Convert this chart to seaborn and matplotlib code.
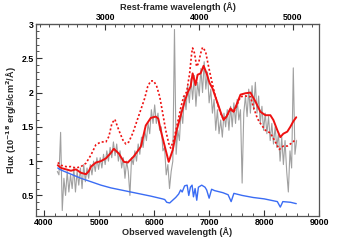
import numpy as np
import pandas as pd
import matplotlib
matplotlib.use("Agg")
import matplotlib.pyplot as plt
from matplotlib.ticker import MultipleLocator, FixedLocator, FormatStrFormatter
import seaborn as sns

# Redshift used for the rest-frame axis on top
Z = 0.705
rest_ticks = [3000, 4000, 5000]

# Observed spectrum (grey), sampled every 30 A
spec_wave = [
    4240, 4270, 4300, 4330, 4360, 4390, 4420, 4450, 4480, 4510,
    4540, 4570, 4600, 4630, 4660, 4690, 4720, 4750, 4780, 4810,
    4840, 4870, 4900, 4930, 4960, 4990, 5020, 5050, 5080, 5110,
    5140, 5170, 5200, 5230, 5260, 5290, 5320, 5350, 5380, 5410,
    5440, 5470, 5500, 5530, 5560, 5590, 5620, 5650, 5680, 5710,
    5740, 5770, 5800, 5830, 5860, 5890, 5920, 5950, 5980, 6010,
    6040, 6070, 6100, 6130, 6160, 6190, 6220, 6250, 6280, 6310,
    6340, 6370, 6400, 6430, 6460, 6490, 6520, 6550, 6580, 6610,
    6640, 6670, 6700, 6730, 6760, 6790, 6820, 6850, 6880, 6910,
    6940, 6970, 7000, 7030, 7060, 7090, 7120, 7150, 7180, 7210,
    7240, 7270, 7300, 7330, 7360, 7390, 7420, 7450, 7480, 7510,
    7540, 7570, 7600, 7630, 7660, 7690, 7720, 7750, 7780, 7810,
    7840, 7870, 7900, 7930, 7960, 7990, 8020, 8050, 8080, 8110,
    8140, 8170, 8200, 8230, 8260, 8290, 8320, 8350, 8380, 8410,
    8440, 8470, 8500, 8530, 8560, 8590,
]
spec_flux = [
    0.85, 0.80, 1.42, 0.28, 0.75, 0.50, 0.85, 0.55, 0.80, 0.60,
    0.90, 0.55, 0.85, 0.65, 0.90, 0.60, 0.95, 0.70, 0.90, 0.75,
    0.95, 0.80, 1.00, 0.85, 1.05, 0.88, 1.05, 0.90, 1.10, 0.95,
    1.15, 1.00, 1.20, 1.05, 1.28, 1.08, 1.25, 1.00, 1.15, 0.90,
    1.05, 0.75, 1.00, 0.85, 0.50, 1.05, 0.95, 1.15, 1.00, 1.25,
    1.10, 1.35, 1.20, 1.45, 1.30, 1.55, 1.40, 1.75, 1.55, 1.82,
    1.55, 1.70, 1.45, 1.50, 1.15, 1.20, 0.80, 0.95, 0.60, 0.85,
    1.00, 2.92, 1.10, 1.45, 1.30, 1.75, 1.55, 1.95, 1.75, 2.10,
    1.85, 2.20, 1.90, 2.25, 1.80, 2.15, 1.95, 2.35, 2.00, 2.45,
    2.05, 2.30, 1.85, 2.05, 1.70, 1.90, 1.45, 1.75, 1.40, 1.60,
    1.35, 1.70, 1.50, 1.75, 1.45, 1.80, 1.50, 1.85, 1.55, 1.90,
    1.60, 1.75, 0.68, 1.70, 1.95, 1.65, 2.05, 1.70, 2.10, 1.75,
    2.15, 1.70, 1.95, 1.55, 1.80, 1.45, 1.70, 1.40, 1.65, 1.30,
    1.55, 1.25, 1.50, 1.20, 1.40, 1.00, 1.35, 0.95, 1.30, 0.85,
    0.55, 1.15, 0.90, 2.36, 1.10, 1.30,
]

# Best-fit model (solid red)
fit_wave = [
    4248, 4308, 4489, 4580, 4670, 4761, 4810, 4852, 4942, 5033,
    5123, 5214, 5268, 5359, 5450, 5522, 5631, 5758, 5848, 5939,
    6029, 6075, 6120, 6211, 6265, 6337, 6410, 6482, 6555, 6609,
    6664, 6700, 6754, 6790, 6845, 6899, 6954, 7008, 7062, 7135,
    7207, 7262, 7316, 7388, 7443, 7497, 7570, 7660, 7751, 7841,
    7932, 8023, 8113, 8168, 8240, 8294, 8349, 8421, 8476, 8530,
    8584,
]
fit_flux = [
    0.94, 0.90, 0.86, 0.88, 0.83, 0.81, 0.85, 0.92, 0.98, 1.00,
    1.04, 1.12, 1.18, 1.11, 0.99, 0.98, 1.07, 1.21, 1.52, 1.63,
    1.65, 1.62, 1.45, 1.16, 0.99, 1.16, 1.45, 1.66, 1.87, 2.00,
    2.09, 2.28, 2.11, 2.26, 2.28, 2.39, 2.28, 2.14, 2.06, 1.89,
    1.72, 1.60, 1.65, 1.77, 1.72, 1.82, 1.97, 1.99, 2.00, 1.87,
    1.72, 1.67, 1.67, 1.60, 1.45, 1.35, 1.40, 1.43, 1.50, 1.58,
    1.64,
]

# Alternative model (dotted red)
alt_wave = [
    4248, 4308, 4399, 4489, 4580, 4670, 4761, 4852, 4942, 5033,
    5123, 5178, 5232, 5286, 5359, 5431, 5486, 5540, 5613, 5685,
    5758, 5830, 5884, 5939, 5993, 6047, 6102, 6156, 6211, 6265,
    6301, 6356, 6410, 6482, 6537, 6591, 6646, 6682, 6700, 6736,
    6772, 6809, 6845, 6881, 6935, 6990, 7044, 7098, 7153, 7207,
    7262, 7316, 7388, 7443, 7497, 7570, 7660, 7751, 7805, 7878,
    7932, 8023, 8113, 8204, 8276, 8349, 8421, 8494, 8566, 8584,
]
alt_flux = [
    0.98, 0.94, 0.92, 0.92, 0.90, 0.92, 0.97, 1.09, 1.24, 1.28,
    1.28, 1.36, 1.55, 1.61, 1.45, 1.31, 1.25, 1.28, 1.41, 1.58,
    1.75, 1.92, 2.09, 2.17, 2.17, 2.09, 1.94, 1.70, 1.45, 1.26,
    1.19, 1.31, 1.50, 1.77, 1.94, 2.01, 2.28, 2.57, 2.65, 2.57,
    2.38, 2.43, 2.57, 2.66, 2.60, 2.38, 2.18, 1.99, 1.84, 1.70,
    1.61, 1.65, 1.76, 1.71, 1.80, 1.94, 1.95, 1.94, 1.79, 1.62,
    1.55, 1.45, 1.41, 1.28, 1.17, 1.22, 1.22, 1.26, 1.31, 1.32,
]

# Host / continuum component (blue)
host_wave = [
    4248, 4308, 4489, 4670, 4852, 5033, 5214, 5395, 5576, 5758,
    5939, 6150, 6193, 6229, 6283, 6337, 6392, 6446, 6482, 6510,
    6555, 6600, 6630, 6660, 6690, 6715, 6745, 6775, 6805, 6865,
    6925, 6955, 7000, 7045, 7100, 7250, 7345, 7400, 7450, 7600,
    7800, 8000, 8240, 8294, 8340, 8480, 8584,
]
host_flux = [
    0.90, 0.87, 0.81, 0.75, 0.70, 0.65, 0.61, 0.58, 0.55, 0.52,
    0.49, 0.45, 0.44, 0.40, 0.39, 0.43, 0.47, 0.52, 0.58, 0.55,
    0.64, 0.65, 0.50, 0.62, 0.65, 0.48, 0.60, 0.43, 0.62, 0.65,
    0.62, 0.58, 0.46, 0.59, 0.57, 0.54, 0.51, 0.41, 0.53, 0.50,
    0.47, 0.45, 0.41, 0.33, 0.41, 0.40, 0.38,
]

sns.set_style("ticks")
plt.rcParams["font.family"] = ["Liberation Sans", "DejaVu Sans"]
plt.rcParams["font.weight"] = "bold"
plt.rcParams["axes.labelweight"] = "bold"
plt.rcParams["mathtext.default"] = "bf"

fig = plt.figure(figsize=(3.55, 2.40), dpi=100)
ax = fig.add_axes([0.101, 0.10, 0.798, 0.80])

spec_df = pd.DataFrame({"wave": spec_wave, "flux": spec_flux})
sns.lineplot(data=spec_df, x="wave", y="flux", ax=ax, color="#a0a0a0",
             linewidth=0.8, estimator=None, sort=False)
sns.lineplot(x=alt_wave, y=alt_flux, ax=ax, color="#ee1111", linewidth=1.2,
             linestyle=(0, (1.2, 1.3)), estimator=None, sort=False)
sns.lineplot(x=fit_wave, y=fit_flux, ax=ax, color="#ee1111", linewidth=1.4,
             estimator=None, sort=False)
sns.lineplot(x=host_wave, y=host_flux, ax=ax, color="#3a6cf4", linewidth=1.0,
             estimator=None, sort=False)

ax.set_xlim(3850, 9000)
ax.set_ylim(0.2, 3.0)
ax.set_xlabel("Observed wavelength (Å)", fontsize=6.6, fontweight="bold",
              labelpad=0)
ax.set_ylabel(r"Flux (10$^{-18}$ erg/s/cm$^{2}$/Å)", fontsize=6.6,
              fontweight="bold", labelpad=2)

ax.xaxis.set_major_locator(MultipleLocator(1000))
ax.xaxis.set_minor_locator(MultipleLocator(200))
ax.yaxis.set_major_locator(MultipleLocator(0.5))
ax.yaxis.set_minor_locator(MultipleLocator(0.1))
ax.yaxis.set_major_formatter(FormatStrFormatter("%g"))
ax.tick_params(which="both", direction="in", top=False, right=False,
               labelsize=6.3, pad=1.5, colors="#333333", labelcolor="black")
ax.tick_params(which="major", length=4, width=0.8)
ax.tick_params(which="minor", length=2, width=0.6)
for lab in ax.get_xticklabels() + ax.get_yticklabels():
    lab.set_fontweight("bold")
for side in ["left", "right", "top", "bottom"]:
    ax.spines[side].set_visible(True)
    ax.spines[side].set_color("#555555")
    ax.spines[side].set_linewidth(0.9)

top = ax.secondary_xaxis("top", functions=(lambda w: w / (1 + Z),
                                           lambda w: w * (1 + Z)))
top.xaxis.set_major_locator(FixedLocator(rest_ticks))
top.xaxis.set_minor_locator(MultipleLocator(100))
top.tick_params(which="both", direction="in", labelsize=6.3, pad=1.5,
                colors="#333333", labelcolor="black")
top.tick_params(which="major", length=4, width=0.8)
top.tick_params(which="minor", length=2, width=0.6)
top.set_xlabel("Rest-frame wavelength (Å)", fontsize=6.6, fontweight="bold",
               labelpad=2)
for lab in top.get_xticklabels():
    lab.set_fontweight("bold")
top.spines["top"].set_color("#555555")

fig.savefig("out.png", dpi=100)
